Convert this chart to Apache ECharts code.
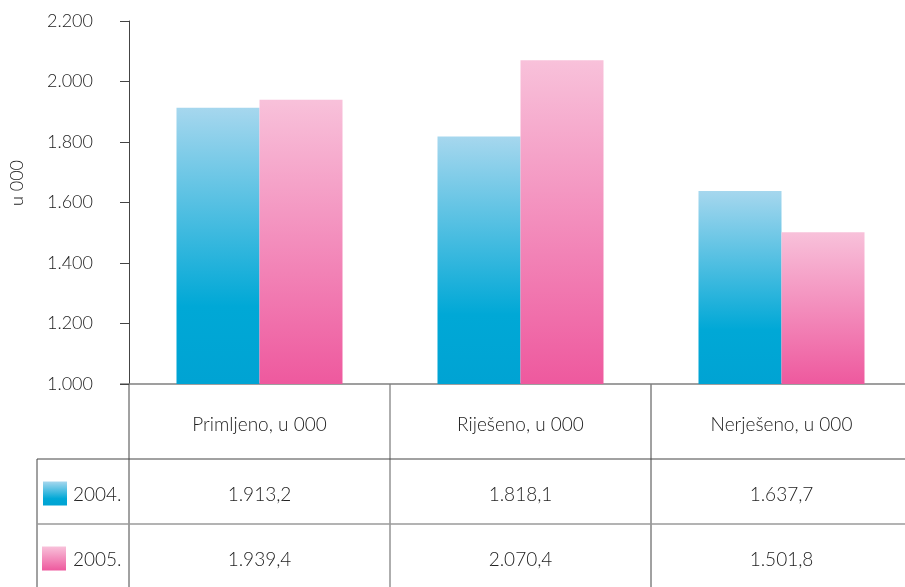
<!DOCTYPE html>
<html>
<head>
<meta charset="utf-8">
<script src="https://cdn.jsdelivr.net/npm/echarts@6/dist/echarts.min.js"></script>
<style>
html,body{margin:0;padding:0;background:#fff;}
#c{width:905px;height:587px;}
</style>
</head>
<body>
<div id="c"></div>
<script>
const categories = ['Primljeno, u 000', 'Riješeno, u 000', 'Nerješeno, u 000'];
const seriesNames = ['2004.', '2005.'];
const values2004 = [1913.2, 1818.1, 1637.7];
const values2005 = [1939.4, 2070.4, 1501.8];
const yMin = 1000, yMax = 2200, yStep = 200;
const yAxisTitle = 'u 000';

const FONT = 'Lato, "Open Sans", sans-serif';
const WEIGHT = 300;
const TXT = '#222';
const TFS = 19;

function fmtThousands(v) {
  return String(Math.round(v)).replace(/\B(?=(\d{3})+(?!\d))/g, '.');
}
function fmtValue(v) {
  const parts = v.toFixed(1).split('.');
  return parts[0].replace(/\B(?=(\d{3})+(?!\d))/g, '.') + ',' + parts[1];
}

const blueGrad = () => new echarts.graphic.LinearGradient(0, 0, 0, 1, [
  {offset: 0, color: '#a6d7ee'},
  {offset: 0.72, color: '#00a8d6'},
  {offset: 1, color: '#00a3d3'}
]);
const pinkGrad = () => new echarts.graphic.LinearGradient(0, 0, 0, 1, [
  {offset: 0, color: '#f8c1da'},
  {offset: 1, color: '#ee599e'}
]);

const chart = echarts.init(document.getElementById('c'), null, {renderer: 'canvas'});

const gridLeft = 129, gridTop = 21, axisY = 384, gridW = 783;

chart.setOption({
  animation: false,
  grid: {left: gridLeft, top: gridTop, width: gridW, height: axisY - gridTop,
         containLabel: false, outerBoundsMode: 'none'},
  xAxis: {
    type: 'category',
    data: categories,
    axisLine: {show: true, lineStyle: {color: '#808080', width: 1.5}},
    axisTick: {show: false},
    axisLabel: {show: false}
  },
  yAxis: {
    type: 'value',
    min: yMin, max: yMax, interval: yStep,
    axisLine: {show: true, lineStyle: {color: '#444', width: 1}},
    axisTick: {show: true, length: 9, lineStyle: {color: '#444'}},
    splitLine: {show: false},
    axisLabel: {
      margin: 36, fontFamily: FONT, fontWeight: WEIGHT, fontSize: 18, color: TXT,
      formatter: v => fmtThousands(v)
    }
  },
  series: [
    {name: seriesNames[0], type: 'bar', data: values2004, barWidth: 83, barGap: '0%',
     itemStyle: {color: blueGrad()}},
    {name: seriesNames[1], type: 'bar', data: values2005, barWidth: 83, barGap: '0%',
     itemStyle: {color: pinkGrad()}}
  ]
});

// Data table under the chart
const headerBottom = 459, row1Bottom = 524, tableBottom = 587, tableLeft = 37;
const colX = categories.map(c => chart.convertToPixel({xAxisIndex: 0}, c));
const bandW = gridW / categories.length;
const bounds = [gridLeft, gridLeft + bandW, gridLeft + 2 * bandW];

const g = [];
const dark = {stroke: '#444', lineWidth: 1};
const light = {stroke: '#9a9a9a', lineWidth: 1.6};
g.push({type: 'line', shape: {x1: 120, y1: axisY, x2: gridLeft, y2: axisY}, style: {stroke: '#808080', lineWidth: 1.5}});
g.push({type: 'line', shape: {x1: bounds[0], y1: axisY, x2: bounds[0], y2: tableBottom}, style: dark});
g.push({type: 'line', shape: {x1: bounds[1], y1: axisY, x2: bounds[1], y2: tableBottom}, style: light});
g.push({type: 'line', shape: {x1: bounds[2], y1: axisY, x2: bounds[2], y2: tableBottom}, style: dark});
g.push({type: 'line', shape: {x1: tableLeft, y1: headerBottom, x2: tableLeft, y2: tableBottom}, style: dark});
g.push({type: 'line', shape: {x1: tableLeft, y1: headerBottom, x2: 905, y2: headerBottom}, style: dark});
g.push({type: 'line', shape: {x1: tableLeft, y1: row1Bottom, x2: 905, y2: row1Bottom}, style: light});

const headerY = (axisY + headerBottom) / 2 + 3;
const rowY = [(headerBottom + row1Bottom) / 2 + 3, (row1Bottom + tableBottom) / 2 + 4];
const rowVals = [values2004, values2005];

categories.forEach((c, i) => {
  g.push({type: 'text', x: colX[i], y: headerY,
    style: {text: c, fontFamily: FONT, fontWeight: WEIGHT, fontSize: TFS, fill: TXT, align: 'center', verticalAlign: 'middle'}});
  rowVals.forEach((vals, r) => {
    g.push({type: 'text', x: colX[i], y: rowY[r],
      style: {text: fmtValue(vals[i]), fontFamily: FONT, fontWeight: WEIGHT, fontSize: TFS, fill: TXT, align: 'center', verticalAlign: 'middle'}});
  });
});

const grads = [blueGrad(), pinkGrad()];
seriesNames.forEach((n, r) => {
  g.push({type: 'rect', shape: {x: 43 - r, y: rowY[r] - 13, width: 24, height: 24}, style: {fill: grads[r]}});
  g.push({type: 'text', x: 73, y: rowY[r],
    style: {text: n, fontFamily: FONT, fontWeight: WEIGHT, fontSize: TFS, fill: TXT, align: 'left', verticalAlign: 'middle'}});
});

g.push({type: 'text', x: 17, y: 183, rotation: Math.PI / 2,
  style: {text: yAxisTitle, fontFamily: FONT, fontWeight: WEIGHT, fontSize: 18, fill: TXT, align: 'center', verticalAlign: 'middle'}});

chart.setOption({graphic: {elements: g}});
</script>
</body>
</html>
